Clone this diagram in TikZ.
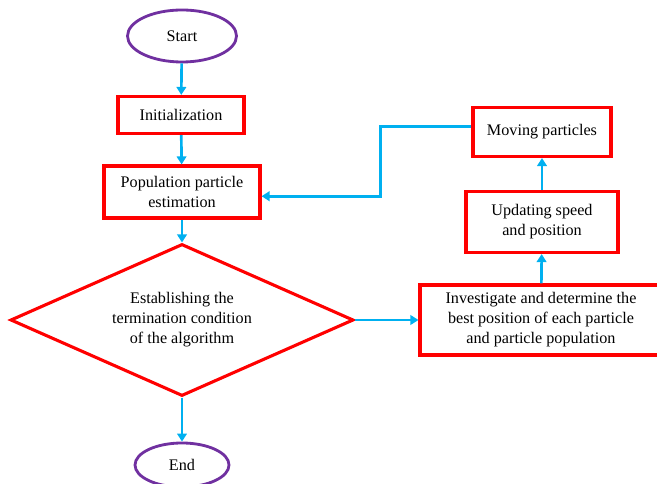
\documentclass[tikz,border=0pt]{standalone}
\usepackage{fontspec}
\setmainfont{Liberation Serif}
\usepackage{tikz}
\usetikzlibrary{shapes.geometric, arrows.meta, positioning}

\definecolor{flowblue}{HTML}{00B0F0}
\definecolor{termpurple}{HTML}{7030A0}
\definecolor{boxred}{HTML}{FF0000}

\begin{document}
\begin{tikzpicture}[
    x=0.025cm, y=-0.025cm,
    every node/.style={font=\fontsize{11.5}{14.2}\selectfont},
    termnode/.style={ellipse, draw=termpurple, line width=2pt, fill=white, inner sep=0pt, align=center},
    procbox/.style={rectangle, draw=boxred, line width=2.2pt, fill=white, inner sep=2pt, align=center},
    decision/.style={diamond, draw=boxred, line width=2.2pt, fill=white, inner sep=0pt, aspect=2.25, align=center},
    arr/.style={-{Triangle[length=2mm, width=2.4mm]}, draw=flowblue, line width=1.9pt}
]
\useasboundingbox (0,0) rectangle (657,484);

% Main column
\node[termnode, minimum width=2.725cm, minimum height=1.3cm] (start) at (182,36) {Start};
\node[procbox, minimum width=3.15cm, minimum height=0.925cm] (init) at (181,115) {Initialization};
\node[procbox, minimum width=3.9cm, minimum height=1.3cm] (pop) at (182,192) {Population particle\\estimation};
\node[decision, minimum width=8.575cm, minimum height=3.8cm] (cond) at (182,320) {Establishing the\\termination condition\\of the algorithm};
\node[termnode, minimum width=2.35cm, minimum height=1.1cm] (finish) at (182,465) {End};

% Right column
\node[procbox, minimum width=6.05cm, minimum height=1.75cm] (best) at (541,320) {Investigate and determine the\\best position of each particle\\and particle population};
\node[procbox, minimum width=3.8cm, minimum height=1.525cm] (update) at (542,222) {Updating speed\\and position};
\node[procbox, minimum width=3.45cm, minimum height=1.225cm] (move) at (542,132) {Moving particles};

% Arrows
\draw[arr] (start) -- (init);
\draw[arr] (init) -- (pop);
\draw[arr] (pop) -- (cond.north);
\draw[arr] (cond.south) -- (finish);
\draw[arr] (cond.east) -- (best.west);
\draw[arr] (best) -- (update);
\draw[arr] (update) -- (move);
\draw[arr] ([yshift=4pt]move.west) -- ++(-91,0) |- ([yshift=-3pt]pop.east);

\end{tikzpicture}
\end{document}
